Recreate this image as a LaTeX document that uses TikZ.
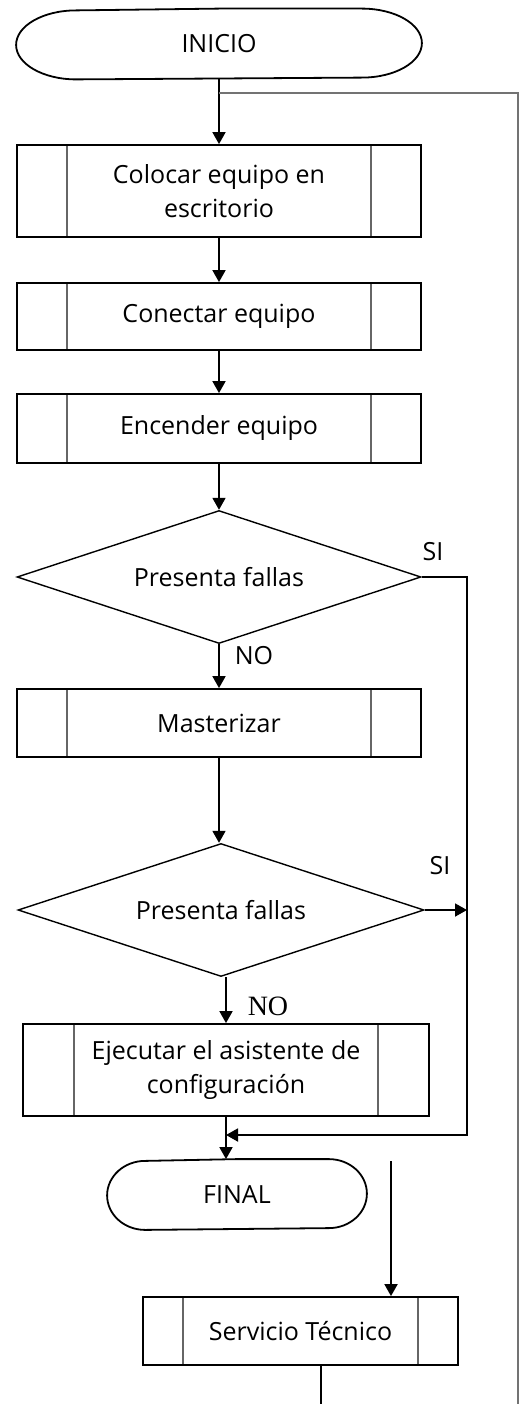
\documentclass[tikz,border=0pt]{standalone}
\usepackage{fontspec}
\setmainfont{Open Sans}
\newfontfamily\romana{Liberation Serif}
\usetikzlibrary{shapes.geometric,arrows.meta}

\begin{document}
\begin{tikzpicture}[x=1pt,y=-1pt,line width=1.8pt,
    every node/.style={font=\fontsize{25}{34}\selectfont,align=center},
    terminal/.style={inner sep=0pt,minimum height=69pt,
      append after command={\pgfextra{\draw[line width=1.8pt,line join=round]
        (\tikzlastnode.north) -- ([xshift=-#1]\tikzlastnode.north east)
        arc[start angle=-90,end angle=90,x radius=#1,y radius=34.5]
        -- ([xshift=#1]\tikzlastnode.south west)
        arc[start angle=90,end angle=270,x radius=#1,y radius=34.5] -- cycle;}}},
    proc/.style={draw,rectangle,inner sep=0pt,
      path picture={\draw[gray!80!black,line width=2pt]
        ([xshift=#1]path picture bounding box.south west) -- ([xshift=#1]path picture bounding box.north west)
        ([xshift=-#1]path picture bounding box.south east) -- ([xshift=-#1]path picture bounding box.north east);}},
    decision/.style={draw,diamond,aspect=3,minimum width=404pt,minimum height=133pt,inner sep=0pt,line width=1.4pt},
    flecha/.style={-{Triangle[width=13pt,length=12pt]}},
    gris/.style={draw=gray!90!black,line width=1.8pt}]
    \useasboundingbox (0,0) rectangle (528,1404);
    % bloques
    \node[terminal=60,minimum width=404pt] (inicio) at (219,44) {INICIO};
    \node[proc=50,minimum width=404pt,minimum height=92pt] (colocar) at (219,191) {Colocar equipo en\\escritorio};
    \node[proc=50,minimum width=404pt,minimum height=67pt] (conectar) at (219,316.5) {Conectar equipo};
    \node[proc=50,minimum width=404pt,minimum height=69pt] (encender) at (219,428.5) {Encender equipo};
    \node[decision] (falla1) at (219,577) {Presenta fallas};
    \node[proc=50,minimum width=404pt,minimum height=68pt] (master) at (219,723) {Masterizar};
    \node[decision,minimum width=406pt] (falla2) at (221,910) {Presenta fallas};
    \node[proc=51,minimum width=406pt,minimum height=92pt] (asistente) at (226,1070) {Ejecutar el asistente de\\configuración};
    \node[terminal=38,minimum width=258pt] (final) at (237,1194.5) {FINAL};
    \node[proc=40,minimum width=315pt,minimum height=68pt] (servicio) at (300.5,1331) {Servicio Técnico};
    % etiquetas
    \node (si1) at (433,552) {SI};
    \node (no1) at (254,656) {NO};
    \node (si2) at (440,866) {SI};
    \node[font=\romana\fontsize{28}{30}\selectfont] (no2) at (268,1006) {NO};
    % puntos libres
    \coordinate (retorno) at (219,93);
    \coordinate (ladoder) at (518,93);
    \coordinate (fin) at (518,1404);
    \coordinate (bajada) at (467,1135);
    \coordinate (llegada) at (226,1135);
    \coordinate (suelto) at (391,1161);
    \coordinate (salida) at (321,1404);
    % conectores
    \draw[flecha] (inicio) -- (colocar);
    \draw[gris] (retorno) -- (ladoder) -- (fin);
    \draw[flecha] (colocar) -- (conectar);
    \draw[flecha] (conectar) -- (encender);
    \draw[flecha] (encender) -- (falla1);
    \draw[flecha] (falla1.east) -| (bajada) -- (llegada);
    \draw[flecha] (falla1) -- (master);
    \draw[flecha] (master.south) -- (master.south |- falla2.north);
    \draw[flecha] (falla2.east) -- (falla2.east -| bajada);
    \draw[flecha] (asistente.north |- falla2.south) -- (asistente.north);
    \draw[flecha] (asistente.south) -- (asistente.south |- final.north);
    \draw[flecha] (suelto) -- (suelto |- servicio.north);
    \draw (servicio.south -| salida) -- (salida);
\end{tikzpicture}
\end{document}
